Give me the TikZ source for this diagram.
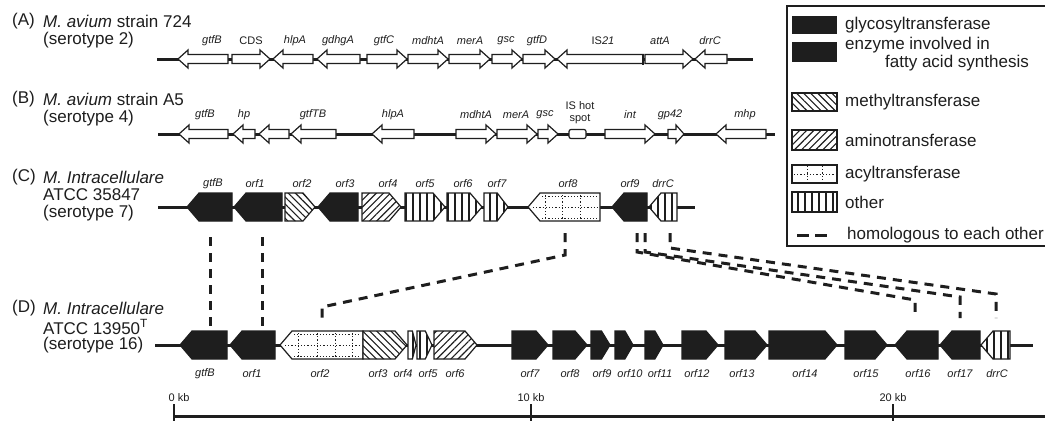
\documentclass[tikz,border=0pt]{standalone}
\usepackage{fontspec}
\setmainfont{Liberation Sans}
\usetikzlibrary{patterns.meta}
\definecolor{ink}{RGB}{30,30,30}
\tikzset{
  main/.style={font=\fontsize{17}{19}\selectfont, anchor=west, inner sep=0pt, text=ink},
  gl/.style={font=\fontsize{11}{12}\selectfont\itshape, inner sep=0pt, text=ink},
  glu/.style={font=\fontsize{11}{12}\selectfont, inner sep=0pt, text=ink},
  lg/.style={font=\fontsize{17}{19}\selectfont, anchor=west, inner sep=0pt, text=ink},
  genome/.style={line width=3pt, draw=ink},
  garr/.style={draw=ink, line width=1.2pt, fill=white, line join=miter},
  glyc/.style={draw=ink, line width=1.2pt, fill=ink},
  methyl/.style={draw=ink, line width=1.2pt, preaction={fill=white}, pattern={Lines[angle=-45,distance=5pt,line width=1.1pt]}, pattern color=ink},
  amino/.style={draw=ink, line width=1.2pt, preaction={fill=white}, pattern={Lines[angle=45,distance=5pt,line width=1.1pt]}, pattern color=ink},
  other/.style={draw=ink, line width=1.2pt, preaction={fill=white}, pattern={Lines[angle=90,distance=7pt,line width=1.2pt]}, pattern color=ink},
  acylbox/.style={draw=ink, line width=1.2pt, fill=white},
  acyldot/.style={draw=ink, line width=1pt, dash pattern=on 1.2pt off 2pt},
  homol/.style={draw=ink, line width=3pt, dash pattern=on 9pt off 7pt},
}
% open arrows (rows A, B)
\newcommand{\openR}[3]{%
  \pgfmathsetmacro{\ghl}{min(10,0.5*(#2-#1))}%
  \draw[garr] (#1,#3-4.5) -- (#2-\ghl,#3-4.5) -- (#2-\ghl,#3-9) -- (#2,#3) -- (#2-\ghl,#3+9) -- (#2-\ghl,#3+4.5) -- (#1,#3+4.5) -- cycle;}
\newcommand{\openL}[3]{%
  \pgfmathsetmacro{\ghl}{min(10,0.5*(#2-#1))}%
  \draw[garr] (#2,#3-4.5) -- (#1+\ghl,#3-4.5) -- (#1+\ghl,#3-9) -- (#1,#3) -- (#1+\ghl,#3+9) -- (#1+\ghl,#3+4.5) -- (#2,#3+4.5) -- cycle;}
% block arrows (rows C, D)
\newcommand{\blkR}[4]{%
  \pgfmathsetmacro{\bhl}{min(12,0.45*(#3-#2))}%
  \draw[#1] (#2,#4-14) -- (#3-\bhl,#4-14) -- (#3,#4) -- (#3-\bhl,#4+14) -- (#2,#4+14) -- cycle;}
\newcommand{\blkL}[4]{%
  \pgfmathsetmacro{\bhl}{min(12,0.45*(#3-#2))}%
  \draw[#1] (#3,#4-14) -- (#2+\bhl,#4-14) -- (#2,#4) -- (#2+\bhl,#4+14) -- (#3,#4+14) -- cycle;}
% acyltransferase block pointing left: x1 x2 y, list of dotted x positions
\newcommand{\acylL}[4]{%
  \pgfmathsetmacro{\bhl}{min(12,0.45*(#2-#1))}%
  \draw[acylbox] (#2,#3-14) -- (#1+\bhl,#3-14) -- (#1,#3) -- (#1+\bhl,#3+14) -- (#2,#3+14) -- cycle;
  \foreach \q in {#4} {\draw[acyldot] (\q,#3-12) -- (\q,#3+12);}
  \draw[acyldot] (#1+5,#3) -- (#2-2,#3);
  \draw[acyldot] (#1+\bhl+2,#3-11) -- (#2-3,#3-11);
  \draw[acyldot] (#1+\bhl+2,#3+11) -- (#2-3,#3+11);}
\begin{document}
\begin{tikzpicture}[x=1pt,y=-1pt]
\useasboundingbox (0,0) rectangle (1045,421);
\clip (0,0) rectangle (1045,421);
\fill[white] (0,0) rectangle (1045,421);

% ---------------- Row A ----------------
\node[main] (A1) at (12,21) {(A)};
\node[main] (A2) at (43,21) {\textit{M. avium} strain 724};
\node[main] (A3) at (43,40) {(serotype 2)};
\draw[genome] (157,59) -- (753,59);
\openL{178}{228}{59}
\openR{232}{270}{59}
\openL{273}{313}{59}
\openL{317}{360}{59}
\openR{367}{407}{59}
\openR{408}{448}{59}
\openR{449}{490}{59}
\openR{492}{522}{59}
\openR{523}{555}{59}
\openL{557}{643}{59}
\draw[line width=2.5pt, draw=ink] (643,53.5) -- (643,64.5);
\openR{645}{693}{59}
\openL{695}{727}{59}
\node[gl] (a-gtfB) at (212,41) {gtfB};
\node[glu] (a-cds) at (251,41) {CDS};
\node[gl] (a-hlpA) at (295,41) {hlpA};
\node[gl] (a-gdhgA) at (338,41) {gdhgA};
\node[gl] (a-gtfC) at (384,41) {gtfC};
\node[gl] (a-mdhtA) at (428,41) {mdhtA};
\node[gl] (a-merA) at (470,41) {merA};
\node[gl] (a-gsc) at (506,41) {gsc};
\node[gl] (a-gtfD) at (537,41) {gtfD};
\node[glu] (a-is21) at (603,41) {IS\textit{21}};
\node[gl] (a-attA) at (660,41) {attA};
\node[gl] (a-drrC) at (710,41) {drrC};

% ---------------- Row B ----------------
\node[main] (B1) at (12,99) {(B)};
\node[main] (B2) at (43,99) {\textit{M. avium} strain A5};
\node[main] (B3) at (43,118) {(serotype 4)};
\draw[genome] (158,134) -- (775,134);
\openL{179}{228}{134}
\openL{233}{255}{134}
\openL{259}{289}{134}
\openL{291}{336}{134}
\openL{372}{414}{134}
\openR{456}{496}{134}
\openR{497}{537}{134}
\openR{538}{558}{134}
\draw[garr, rounded corners=2pt] (569,129.5) rectangle (586,138.5);
\openR{605}{655}{134}
\openR{668}{684}{134}
\openL{716}{766}{134}
\node[gl] (b-gtfB) at (205,115) {gtfB};
\node[gl] (b-hp) at (244,115) {hp};
\node[gl] (b-gtfTB) at (313,115) {gtfTB};
\node[gl] (b-hlpA) at (393,115) {hlpA};
\node[gl] (b-mdhtA) at (476,115) {mdhtA};
\node[gl] (b-merA) at (516,115) {merA};
\node[gl] (b-gsc) at (545,115) {gsc};
\node[glu, align=center] (b-is) at (580,113) {IS hot\\spot};
\node[gl] (b-int) at (630,115) {int};
\node[gl] (b-gp42) at (670,115) {gp42};
\node[gl] (b-mhp) at (745,115) {mhp};

% ---------------- Row C ----------------
\node[main] (C1) at (12,177) {(C)};
\node[main] (C2) at (43,177) {\textit{M. Intracellulare}};
\node[main] (C3) at (43,195) {ATCC 35847};
\node[main] (C4) at (43,213) {(serotype 7)};
\draw[genome] (158,207) -- (695,207);
\blkL{glyc}{187}{232}{207}
\blkL{glyc}{234}{282}{207}
\blkR{methyl}{285}{315}{207}
\blkL{glyc}{318}{358}{207}
\blkR{amino}{362}{401}{207}
\blkR{other}{405}{445}{207}
\blkR{other}{447}{482}{207}
\blkR{other}{484}{508}{207}
\acylL{528}{600}{207}{545,562,580}
\blkL{glyc}{612}{647}{207}
\blkL{other}{649}{677}{207}
\node[gl] (c-gtfB) at (213,184) {gtfB};
\node[gl] (c-orf1) at (255,184) {orf1};
\node[gl] (c-orf2) at (302,184) {orf2};
\node[gl] (c-orf3) at (345,184) {orf3};
\node[gl] (c-orf4) at (388,184) {orf4};
\node[gl] (c-orf5) at (425,184) {orf5};
\node[gl] (c-orf6) at (463,184) {orf6};
\node[gl] (c-orf7) at (497,184) {orf7};
\node[gl] (c-orf8) at (568,184) {orf8};
\node[gl] (c-orf9) at (630,184) {orf9};
\node[gl] (c-drrC) at (663,184) {drrC};

% ---------------- Row D ----------------
\node[main] (D1) at (12,308) {(D)};
\node[main] (D2) at (43,308) {\textit{M. Intracellulare}};
\node[main] (D3) at (43,327) {ATCC 13950\textsuperscript{T}};
\node[main] (D4) at (43,345) {(serotype 16)};
\draw[genome] (155,345) -- (1033,345);
\blkL{glyc}{180}{227}{345}
\blkL{glyc}{230}{275}{345}
\acylL{280}{363}{345}{298,317,335,352}
\blkR{methyl}{363}{407}{345}
\blkR{other}{408}{416}{345}
\blkR{other}{417}{432}{345}
\blkR{amino}{434}{477}{345}
\blkR{glyc}{512}{548}{345}
\blkR{glyc}{553}{587}{345}
\blkR{glyc}{591}{610}{345}
\blkR{glyc}{615}{633}{345}
\blkR{glyc}{645}{663}{345}
\blkR{glyc}{682}{718}{345}
\blkR{glyc}{725}{767}{345}
\blkR{glyc}{769}{837}{345}
\blkR{glyc}{845}{887}{345}
\blkL{glyc}{895}{938}{345}
\blkL{glyc}{940}{980}{345}
\blkL{other}{981}{1010}{345}
\node[gl] (d-gtfB) at (205,374) {gtfB};
\node[gl] (d-orf1) at (252,374) {orf1};
\node[gl] (d-orf2) at (320,374) {orf2};
\node[gl] (d-orf3) at (378,374) {orf3};
\node[gl] (d-orf4) at (403,374) {orf4};
\node[gl] (d-orf5) at (428,374) {orf5};
\node[gl] (d-orf6) at (455,374) {orf6};
\node[gl] (d-orf7) at (530,374) {orf7};
\node[gl] (d-orf8) at (570,374) {orf8};
\node[gl] (d-orf9) at (602,374) {orf9};
\node[gl] (d-orf10) at (630,374) {orf10};
\node[gl] (d-orf11) at (660,374) {orf11};
\node[gl] (d-orf12) at (697,374) {orf12};
\node[gl] (d-orf13) at (742,374) {orf13};
\node[gl] (d-orf14) at (805,374) {orf14};
\node[gl] (d-orf15) at (866,374) {orf15};
\node[gl] (d-orf16) at (918,374) {orf16};
\node[gl] (d-orf17) at (960,374) {orf17};
\node[gl] (d-drrC) at (997,374) {drrC};

% ---------------- homology connectors ----------------
\coordinate (hC1) at (210,237); \coordinate (hD1) at (210,329);
\coordinate (hC2) at (262,237); \coordinate (hD2) at (262,329);
\coordinate (hC3) at (565,233); \coordinate (hD3) at (322,322);
\coordinate (hC4) at (637,233); \coordinate (hD4) at (915,318);
\coordinate (hC5) at (645,233); \coordinate (hD5) at (960,318);
\coordinate (hC6) at (670,233); \coordinate (hD6) at (996,318);
\draw[homol] (hC1) -- (hD1);
\draw[homol] (hC2) -- (hD2);
\draw[homol] (hC3) -- (565,255) -- (322,307) -- (hD3);
\draw[homol] (hC4) -- (637,252) -- (915,300) -- (hD4);
\draw[homol] (hC5) -- (645,252) -- (960,297) -- (hD5);
\draw[homol] (hC6) -- (670,248) -- (996,294) -- (hD6);

% ---------------- scale ----------------
\draw[line width=3pt, draw=ink] (173,416) -- (1050,416);
\foreach \t in {174,531,893} {\draw[line width=2.5pt, draw=ink] (\t,404) -- (\t,421);}
\node[glu] (s0) at (179,398) {0 kb};
\node[glu] (s10) at (531,398) {10 kb};
\node[glu] (s20) at (893,398) {20 kb};

% ---------------- legend ----------------
\draw[draw=ink, line width=1.2pt] (1050,6) -- (787,6) -- (787,246) -- (1050,246);
\fill[ink] (792,16) rectangle (837,34);
\fill[ink] (792,42) rectangle (837,62);
\draw[methyl] (792,93) rectangle (837,111);
\draw[amino] (792,130) rectangle (837,150);
\draw[acylbox] (792,165) rectangle (837,183);
\draw[acyldot] (807,166) -- (807,182);
\draw[acyldot] (822,166) -- (822,182);
\draw[acyldot] (794,174) -- (835,174);
\draw[other] (792,192) rectangle (837,212);
\draw[homol, dash pattern=on 12pt off 6pt] (797,235) -- (830,235);
\node[lg] (l1) at (845,25) {glycosyltransferase};
\node[lg] (l2) at (845,45) {enzyme involved in};
\node[lg] (l3) at (885,63) {fatty acid synthesis};
\node[lg] (l4) at (845,102) {methyltransferase};
\node[lg] (l5) at (845,140) {aminotransferase};
\node[lg] (l6) at (845,174) {acyltransferase};
\node[lg] (l7) at (845,202) {other};
\node[lg] (l8) at (847,235) {homologous to each other};
\end{tikzpicture}
\end{document}
